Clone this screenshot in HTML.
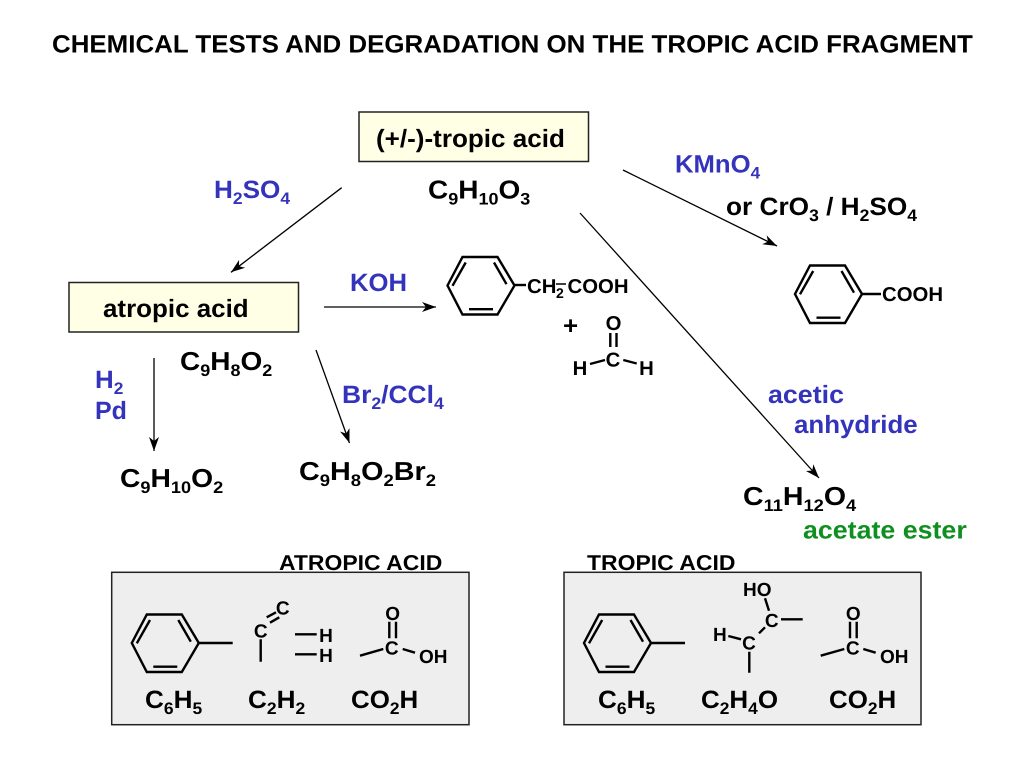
<!DOCTYPE html>
<html><head><meta charset="utf-8"><style>
html,body{margin:0;padding:0;background:#fff}
svg{display:block}
text{font-family:"Liberation Sans",sans-serif;font-weight:bold;font-size:25px;fill:#000;text-rendering:geometricPrecision}
.b{fill:#3333bb}.g{fill:#0f8f1f}
.t{font-size:21.500px}
.a{font-size:19px;text-anchor:middle}
.a2{font-size:20px;text-anchor:middle}
.s{font-size:16.700px}
.f{font-size:26px}
.f .s{font-size:16.700px}
.m{font-size:19px}
.m2{font-size:20px}
.st{font-size:14px}
.l{stroke:#000;stroke-width:2.400;fill:none}
.ar{stroke:#000;stroke-width:1.300;fill:none}
</style></head><body>
<svg width="1024" height="768" viewBox="0 0 1024 768" xmlns="http://www.w3.org/2000/svg">
<defs>
<marker id="h" markerUnits="userSpaceOnUse" markerWidth="16" markerHeight="12" refX="14" refY="6" orient="auto"><path d="M0,1 L14,6 L0,11 L4,6 Z" fill="#000"/></marker>
<g id="bz"><path class="l" d="M-33.500,0 L-18.500,-28.500 H16.500 L33.500,0 L16.500,29 H-18.500 Z M-28.500,0.300 L-15.300,-23 M13,-23 L25.500,-1.300 M-12,23.700 H12"/></g>
</defs>
<rect width="1024" height="768" fill="#fff"/>
<text transform="translate(52 52.300) scale(1.036 1)">CHEMICAL TESTS AND DEGRADATION ON THE TROPIC ACID FRAGMENT</text>

<rect x="359" y="112" width="229.500" height="49.500" fill="#ffffe5" stroke="#222" stroke-width="1.500"/>
<text transform="translate(376 147) scale(1.042 1)">(+/-)-tropic acid</text>
<text class="f" transform="translate(428 198.500) scale(1.077 1)">C<tspan class="s" dy="6">9</tspan><tspan dy="-6">H</tspan><tspan class="s" dy="6">10</tspan><tspan dy="-6">O</tspan><tspan class="s" dy="6">3</tspan></text>

<rect x="69" y="282.500" width="229.500" height="49.500" fill="#ffffe5" stroke="#222" stroke-width="1.500"/>
<text transform="translate(103 317) scale(1.038 1)">atropic acid</text>

<line class="ar" x1="341.700" y1="187.700" x2="231" y2="272.300" marker-end="url(#h)"/>
<line class="ar" x1="324" y1="307" x2="436" y2="307" marker-end="url(#h)"/>
<line class="ar" x1="623" y1="170" x2="777" y2="246" marker-end="url(#h)"/>
<line class="ar" x1="580" y1="213" x2="819" y2="478" marker-end="url(#h)"/>
<line class="ar" x1="154" y1="358" x2="154" y2="451" marker-end="url(#h)"/>
<line class="ar" x1="316" y1="350" x2="349.500" y2="443" marker-end="url(#h)"/>

<text class="b" transform="translate(214 198) scale(1.046 1)">H<tspan class="s" dy="6">2</tspan><tspan dy="-6">SO</tspan><tspan class="s" dy="6">4</tspan></text>
<text class="b" transform="translate(675 172.500) scale(1.027 1)">KMnO<tspan class="s" dy="6">4</tspan></text>
<text transform="translate(726 215) scale(1.049 1)">or CrO<tspan class="s" dy="6">3</tspan><tspan dy="-6"> / H</tspan><tspan class="s" dy="6">2</tspan><tspan dy="-6">SO</tspan><tspan class="s" dy="6">4</tspan></text>
<text class="b" transform="translate(350 291) scale(1.027 1)">KOH</text>
<text class="f" transform="translate(180 370) scale(1.077 1)">C<tspan class="s" dy="6">9</tspan><tspan dy="-6">H</tspan><tspan class="s" dy="6">8</tspan><tspan dy="-6">O</tspan><tspan class="s" dy="6">2</tspan></text>
<text class="b" transform="translate(95 388) scale(1.036 1)">H<tspan class="s" dy="6">2</tspan></text>
<text class="b" transform="translate(95 419) scale(1 1)">Pd</text>
<text class="b" transform="translate(342 403) scale(1.056 1)">Br<tspan class="s" dy="6">2</tspan><tspan dy="-6">/CCl</tspan><tspan class="s" dy="6">4</tspan></text>
<text class="f" transform="translate(120 487) scale(1.087 1)">C<tspan class="s" dy="6">9</tspan><tspan dy="-6">H</tspan><tspan class="s" dy="6">10</tspan><tspan dy="-6">O</tspan><tspan class="s" dy="6">2</tspan></text>
<text class="f" transform="translate(299 480) scale(1.106 1)">C<tspan class="s" dy="6">9</tspan><tspan dy="-6">H</tspan><tspan class="s" dy="6">8</tspan><tspan dy="-6">O</tspan><tspan class="s" dy="6">2</tspan><tspan dy="-6">Br</tspan><tspan class="s" dy="6">2</tspan></text>
<text class="b" transform="translate(768 403) scale(1.072 1)">acetic</text>
<text class="b" transform="translate(794 433) scale(1.035 1)">anhydride</text>
<text class="f" transform="translate(743 505) scale(1.096 1)">C<tspan class="s" dy="6">11</tspan><tspan dy="-6">H</tspan><tspan class="s" dy="6">12</tspan><tspan dy="-6">O</tspan><tspan class="s" dy="6">4</tspan></text>
<text class="g" transform="translate(803 538.500) scale(1.071 1)">acetate ester</text>

<use href="#bz" x="481" y="285.500"/>
<line class="l" x1="514" y1="285" x2="526" y2="285"/>
<text class="m2" transform="translate(527 293) scale(1.017 1)">CH</text>
<text class="st" transform="translate(556 298)">2</text>
<text class="m2" transform="translate(567.500 293) scale(1.017 1)">COOH</text>
<line class="l" x1="556" y1="284" x2="566" y2="284" style="stroke-width:1.500"/>
<text transform="translate(563 334) scale(1.036 1)">+</text>
<text class="a2" transform="translate(613.500 330) scale(1.017 1)">O</text>
<text class="a2" transform="translate(613 366.500) scale(1.017 1)">C</text>
<text class="a2" transform="translate(580 375) scale(1.017 1)">H</text>
<text class="a2" transform="translate(646.500 375) scale(1.017 1)">H</text>
<path class="l" d="M610.300,333 V347 M616.500,333 V347 M590,364 L605,360 M623.300,360 L636.700,363.500"/>

<use href="#bz" x="828.500" y="294"/>
<line class="l" x1="862" y1="294" x2="881" y2="294"/>
<text class="m2" transform="translate(882 301) scale(1.017 1)">COOH</text>

<rect x="111.700" y="572.300" width="357.300" height="152.400" fill="#eeeeee" stroke="#222" stroke-width="1.500"/>
<text class="t" transform="translate(279 570) scale(1.068 1)">ATROPIC ACID</text>
<use href="#bz" x="165.300" y="643"/>
<line class="l" x1="199" y1="643" x2="232.700" y2="643"/>
<text class="a" x="260.700" y="637.500">C</text>
<text class="a" x="282.700" y="614.500">C</text>
<path class="l" d="M266.700,617.300 L276,612.300 M270,622.700 L279.300,617.300 M260.700,639.300 V661.700 M295,634.300 H316.700 M295,654.300 H316.700"/>
<text class="a" x="326" y="642">H</text>
<text class="a" x="326" y="662">H</text>
<text class="a" x="392.700" y="620">O</text>
<text class="a" x="391.700" y="654.500">C</text>
<text class="m" x="419" y="663">OH</text>
<path class="l" d="M389.300,621.700 V638.300 M396,621.700 V638.300 M360,655.700 L383.300,649 M402.700,649 L415,652.700"/>
<text transform="translate(145 708) scale(1.046 1)">C<tspan class="s" dy="6">6</tspan><tspan dy="-6">H</tspan><tspan class="s" dy="6">5</tspan></text>
<text transform="translate(248 708) scale(1.046 1)">C<tspan class="s" dy="6">2</tspan><tspan dy="-6">H</tspan><tspan class="s" dy="6">2</tspan></text>
<text transform="translate(351 708) scale(1.036 1)">CO<tspan class="s" dy="6">2</tspan><tspan dy="-6">H</tspan></text>

<rect x="564" y="572.300" width="357" height="152.400" fill="#eeeeee" stroke="#222" stroke-width="1.500"/>
<text class="t" transform="translate(587 570) scale(1.068 1)">TROPIC ACID</text>
<use href="#bz" x="617.500" y="643"/>
<line class="l" x1="651.500" y1="643" x2="685" y2="643"/>
<text class="m" x="743" y="596">HO</text>
<text class="a" x="771.700" y="627">C</text>
<text class="a" x="749" y="649.500">C</text>
<text class="m" x="713" y="641">H</text>
<path class="l" d="M765,598.300 L769,610.700 M781,619.300 H802.700 M759,633.300 L765,627.300 M728.300,636 L741,639.300 M749.300,651.700 V672.700"/>
<text class="a" x="853.300" y="620">O</text>
<text class="a" x="852.700" y="654.500">C</text>
<text class="m" x="880" y="663">OH</text>
<path class="l" d="M850,621.700 V638.300 M856.700,621.700 V638.300 M820.700,655.700 L844.300,649 M863.300,649 L875.700,652.700"/>
<text transform="translate(598 708) scale(1.046 1)">C<tspan class="s" dy="6">6</tspan><tspan dy="-6">H</tspan><tspan class="s" dy="6">5</tspan></text>
<text transform="translate(701 708) scale(1.039 1)">C<tspan class="s" dy="6">2</tspan><tspan dy="-6">H</tspan><tspan class="s" dy="6">4</tspan><tspan dy="-6">O</tspan></text>
<text transform="translate(829 708) scale(1.036 1)">CO<tspan class="s" dy="6">2</tspan><tspan dy="-6">H</tspan></text>
</svg>
</body></html>
